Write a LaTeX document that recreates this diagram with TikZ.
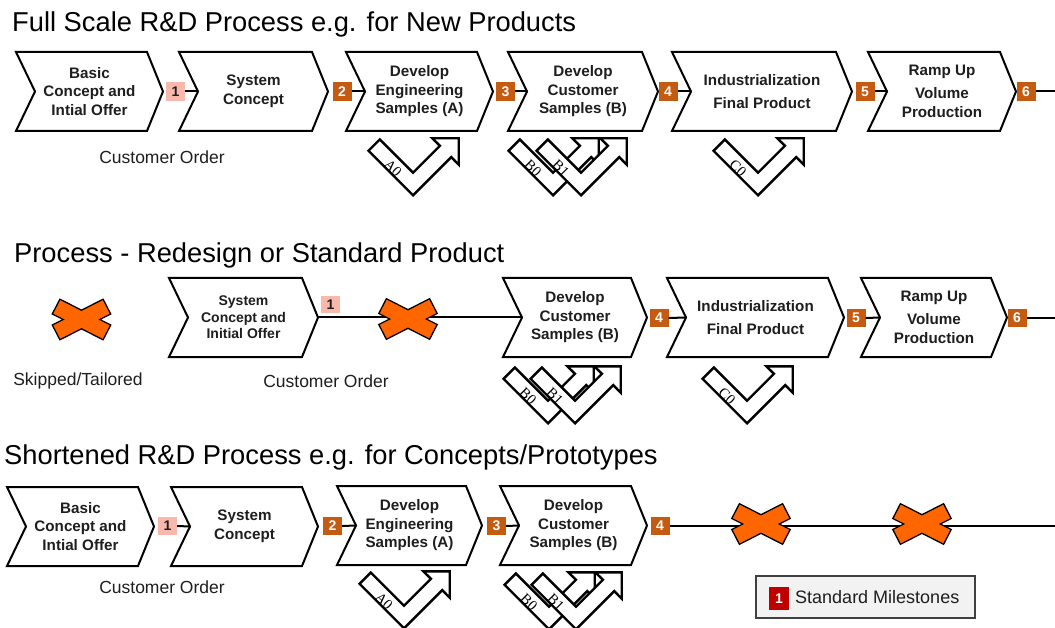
\documentclass[tikz,border=0pt]{standalone}
\usepackage{fontspec}
\setmainfont{Liberation Sans}
\newfontfamily\lblserif{Liberation Serif}
\usetikzlibrary{calc}
\definecolor{msorange}{RGB}{197,90,17}
\definecolor{mspink}{RGB}{248,184,172}
\definecolor{xorange}{RGB}{255,102,0}
\definecolor{legred}{RGB}{192,0,0}
\definecolor{leggray}{RGB}{242,242,242}
\definecolor{txt}{RGB}{30,30,30}
\tikzset{
  chev/.style={draw=black, line width=2pt, fill=white, line join=miter},
  chevtext/.style={font=\bfseries\fontsize{15.2}{18.5}\selectfont, align=center, text=txt, inner sep=0pt},
  chevsmall/.style={font=\bfseries\fontsize{14}{16.5}\selectfont, align=center, text=txt, inner sep=0pt},
  ms/.style={minimum width=19pt, minimum height=19.5pt, inner sep=0pt, font=\bfseries\fontsize{14}{14}\selectfont},
  msdark/.style={ms, fill=msorange, text=white},
  mslight/.style={ms, fill=mspink, text=txt},
  conn/.style={draw=black, line width=2pt},
  chkshape/.style={draw=black, line width=2.4pt, fill=white, line join=miter},
  chklbl/.style={font=\lblserif\fontsize{14.5}{14.5}\selectfont, inner sep=0pt, rotate=-45},
  xst/.style={draw=black, line width=1.3pt, fill=xorange, line join=miter},
  title/.style={anchor=base west, inner sep=0pt, font=\fontsize{27.3}{32}\selectfont, text=black},
  plain/.style={inner sep=0pt, font=\fontsize{17.5}{20}\selectfont, text=txt},
}
% name, left x, top-right x, top y, bottom y, style, text
\newcommand\chevron[7]{%
  \pgfmathsetmacro\cym{(#4+#5)/2}%
  \draw[chev] (#2,#4) -- (#3,#4) -- (#3+16,\cym) -- (#3,#5) -- (#2,#5) -- (#2+19,\cym) -- cycle;
  \coordinate (#1-in) at (#2+19,\cym);
  \coordinate (#1-out) at (#3+16,\cym);
  \node[#6] (#1) at ({(#2+#3)/2+8},\cym) {#7};
}
% name, x, y, label
\newcommand\chk[4]{%
  \begin{scope}[shift={(#2,#3)}]
    \draw[chkshape] (-33.2,-44.5) -- (0,-11.3) -- (26.9,-38.2) -- (19.3,-45.7) -- (45.7,-45.7)
      -- (45.7,-19.3) -- (38.2,-26.9) -- (0,11.3) -- (-44.5,-33.2) -- cycle;
    \node[chklbl] (#1) at (-20,-16) {#4};
  \end{scope}
}
% name, x, y
\newcommand\xcross[3]{%
  \begin{scope}[shift={(#2,#3)}]
    \draw[xst] (18.3,0) -- (29.2,5.5) -- (21.6,20.3) -- (0,9.3) -- (-21.6,20.3) -- (-29.2,5.5)
      -- (-18.3,0) -- (-29.2,-5.5) -- (-21.6,-20.3) -- (0,-9.3) -- (21.6,-20.3) -- (29.2,-5.5) -- cycle;
    \coordinate (#1) at (0,0);
  \end{scope}
}
\begin{document}
\begin{tikzpicture}[x=1pt,y=-1pt]
\useasboundingbox (0,0) rectangle (1055,628);
\fill[white] (0,0) rectangle (1055,628);

% ---------------- Row 1 ----------------
\node[title] (t1) at (12,32) {Full Scale R\&D Process e.g. for New Products};
\chevron{a1}{16}{147}{52}{131}{chevtext}{Basic\\Concept and\\Intial Offer}
\chevron{a2}{179}{312}{52}{131}{chevtext}{System\\Concept}
\chevron{a3}{346}{477}{52}{131}{chevtext}{Develop\\Engineering\\Samples (A)}
\chevron{a4}{508}{642}{52}{131}{chevtext}{Develop\\Customer\\Samples (B)}
\chevron{a5}{672}{836}{52}{131}{chevtext}{Industrialization\\[4.5pt]Final Product}
\chevron{a6}{868}{1000}{52}{131}{chevtext}{Ramp Up\\[4.5pt]Volume\\Production}
\node[mslight] (am1) at (175.5,91.5) {1};
\node[msdark] (am2) at (342,91.5) {2};
\node[msdark] (am3) at (505.5,91.5) {3};
\node[msdark] (am4) at (668,91.5) {4};
\node[msdark] (am5) at (865,91.5) {5};
\node[msdark] (am6) at (1026,91.5) {6};
\coordinate (aend) at (1055,91.5);
\draw[conn] (am1.east) -- (a2-in);
\draw[conn] (am2.east) -- (a3-in);
\draw[conn] (am3.east) -- (a4-in);
\draw[conn] (am4.east) -- (a5-in);
\draw[conn] (am5.east) -- (a6-in);
\draw[conn] (am6.east) -- (aend);
\node[plain] (aco) at (162,157) {Customer Order};
\chk{ka0}{413}{184}{A0}
\chk{kb0}{553}{184}{B0}
\chk{kb1}{581}{184}{B1}
\chk{kc0}{758}{184}{C0}

% ---------------- Row 2 ----------------
\node[title] (t2) at (14,263) {Process - Redesign or Standard Product};
\chevron{b1}{169}{302}{278}{357}{chevsmall}{System\\Concept and\\Initial Offer}
\chevron{b2}{503}{631}{278}{357}{chevtext}{Develop\\Customer\\Samples (B)}
\chevron{b3}{667}{828}{278}{357}{chevtext}{Industrialization\\[4.5pt]Final Product}
\chevron{b4}{861}{991}{278}{357}{chevtext}{Ramp Up\\[4.5pt]Volume\\Production}
\node[mslight, minimum height=17pt] (bm1) at (330.5,304.5) {1};
\node[msdark, minimum height=18pt] (bm4) at (659,318) {4};
\node[msdark, minimum height=18pt] (bm5) at (856,318) {5};
\node[msdark, minimum height=18pt] (bm6) at (1017,318) {6};
\coordinate (bend) at (1055,318);
\draw[conn] (b1-out) -- (b2-in);
\draw[conn] (bm4.east) -- (b3-in);
\draw[conn] (bm5.east) -- (b4-in);
\draw[conn] (bm6.east) -- (bend);
\xcross{bx0}{81.5}{319.5}
\xcross{bx1}{408}{319}
\node[plain] (bskip) at (78,381) {Skipped/Tailored};
\node[plain] (bco) at (326,381) {Customer Order};
\chk{kbb0}{548}{412}{B0}
\chk{kbb1}{575}{412}{B1}
\chk{kbc0}{747}{412}{C0}

% ---------------- Row 3 ----------------
\node[title] (t3) at (4,464) {Shortened R\&D Process e.g. for Concepts/Prototypes};
\chevron{c1}{7}{138}{487}{566}{chevtext}{Basic\\Concept and\\Intial Offer}
\chevron{c2}{171}{302}{487}{566}{chevtext}{System\\Concept}
\chevron{c3}{337}{466}{486}{565}{chevtext}{Develop\\Engineering\\Samples (A)}
\chevron{c4}{500}{631}{486}{565}{chevtext}{Develop\\Customer\\Samples (B)}
\node[mslight, minimum height=18pt] (cm1) at (167.5,526) {1};
\node[msdark, minimum height=18pt] (cm2) at (332.5,526) {2};
\node[msdark, minimum height=18pt] (cm3) at (496.5,526) {3};
\node[msdark, minimum height=18pt] (cm4) at (660,526) {4};
\coordinate (cend) at (1055,526);
\draw[conn] (cm1.east) -- (c2-in);
\draw[conn] (cm2.east) -- (c3-in);
\draw[conn] (cm3.east) -- (c4-in);
\draw[conn] (cm4.east) -- (cend);
\xcross{cx1}{761}{524}
\xcross{cx2}{922}{524}
\node[plain] (cco) at (162,587) {Customer Order};
\chk{kca0}{404}{617}{A0}
\chk{kcb0}{549}{618}{B0}
\chk{kcb1}{576}{618}{B1}

% legend
\node[draw={rgb,255:red,64;green,64;blue,64}, line width=1.3pt, fill=leggray, minimum width=219pt, minimum height=42pt, inner sep=0pt] (legend) at (865.5,597) {};
\node[fill=legred, text=white, minimum width=20pt, minimum height=23pt, inner sep=0pt, font=\bfseries\fontsize{14}{14}\selectfont] (legm) at (779,598.5) {1};
\node[anchor=west, inner sep=0pt, font=\fontsize{18}{20}\selectfont, text=txt] (legt) at (795,597) {Standard Milestones};
\end{tikzpicture}
\end{document}
